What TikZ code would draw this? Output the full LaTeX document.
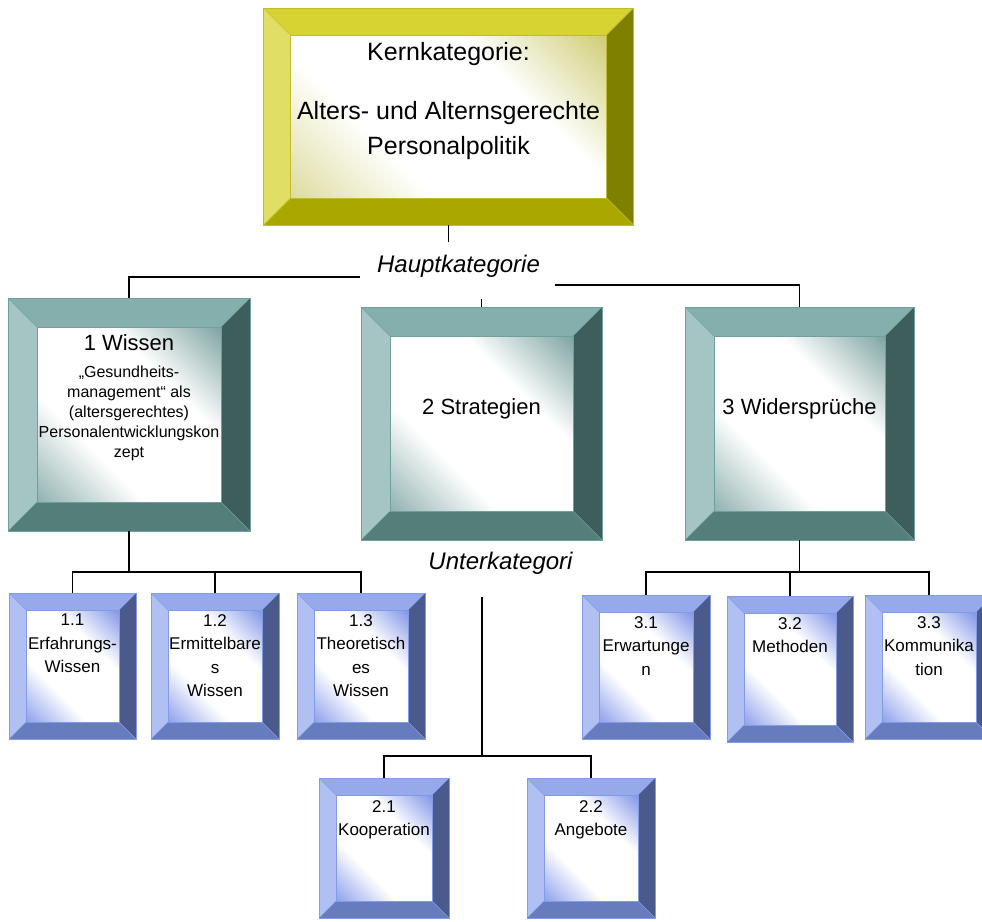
\documentclass[tikz,border=0pt]{standalone}
\usepackage{fontspec}
\setmainfont{Liberation Sans}

\definecolor{Ktop}{RGB}{214,211,50}
\definecolor{Kleft}{RGB}{224,222,100}
\definecolor{Kright}{RGB}{128,128,0}
\definecolor{Kbot}{RGB}{170,168,0}
\definecolor{Kin}{RGB}{208,206,120}
\definecolor{Kedge}{RGB}{190,188,40}
\definecolor{Ttop}{RGB}{132,175,172}
\definecolor{Tleft}{RGB}{164,197,195}
\definecolor{Tright}{RGB}{62,94,92}
\definecolor{Tbot}{RGB}{83,126,122}
\definecolor{Tin}{RGB}{128,166,164}
\definecolor{Tedge}{RGB}{112,160,155}
\definecolor{Btop}{RGB}{150,170,235}
\definecolor{Bleft}{RGB}{176,192,242}
\definecolor{Bright}{RGB}{74,90,140}
\definecolor{Bbot}{RGB}{102,124,190}
\definecolor{Bin}{RGB}{132,152,232}
\definecolor{Bedge}{RGB}{130,155,230}

\pgfdeclarehorizontalshading{Kshade}{100bp}{color(0bp)=(Kin!70!white); color(15bp)=(Kin!70!white); color(36bp)=(white); color(64bp)=(white); color(85bp)=(Kin); color(100bp)=(Kin)}
\pgfdeclarehorizontalshading{Tshade}{100bp}{color(0bp)=(Tin!85!white); color(15bp)=(Tin!85!white); color(36bp)=(white); color(64bp)=(white); color(85bp)=(Tin); color(100bp)=(Tin)}
\pgfdeclarehorizontalshading{Bshade}{100bp}{color(0bp)=(Bin!90!white); color(15bp)=(Bin!90!white); color(36bp)=(white); color(64bp)=(white); color(85bp)=(Bin); color(100bp)=(Bin)}

\begin{document}
\begin{tikzpicture}[x=1pt,y=-1pt]
\tikzset{bevel/.style 2 args={draw=#1edge, line width=0.5pt, inner sep=0pt,
  path picture={
    \path (path picture bounding box.north west) coordinate (onw)
          (path picture bounding box.north east) coordinate (one)
          (path picture bounding box.south east) coordinate (ose)
          (path picture bounding box.south west) coordinate (osw)
          ([shift={(#2pt,-#2pt)}]onw) coordinate (inw)
          ([shift={(-#2pt,-#2pt)}]one) coordinate (ine)
          ([shift={(-#2pt,#2pt)}]ose) coordinate (ise)
          ([shift={(#2pt,#2pt)}]osw) coordinate (isw);
    \fill[#1top] (onw) -- (one) -- (ine) -- (inw) -- cycle;
    \fill[#1right] (one) -- (ose) -- (ise) -- (ine) -- cycle;
    \fill[#1bot] (ose) -- (osw) -- (isw) -- (ise) -- cycle;
    \fill[#1left] (osw) -- (onw) -- (inw) -- (isw) -- cycle;
    \shade[shading=#1shade, shading angle=45, draw=#1edge, line width=0.4pt] (inw) rectangle (ise);
    \draw[#1edge, line width=0.4pt] (onw) -- (inw) (one) -- (ine) (ose) -- (ise) (osw) -- (isw);
  }}}
\tikzstyle{kernbox}=[bevel={K}{27}, minimum width=370pt, minimum height=217pt]
\tikzstyle{mainbox}=[bevel={T}{29}, minimum height=233pt]
\tikzstyle{subbox}=[bevel={B}{17}]
\tikzstyle{kerntext}=[font=\fontsize{25}{35}\selectfont, align=center, inner sep=0pt]
\tikzstyle{maintext}=[font=\fontsize{22}{26}\selectfont, inner sep=0pt]
\tikzstyle{smalltext}=[font=\fontsize{16}{20}\selectfont, align=center, anchor=north, inner sep=0pt]
\tikzstyle{subtext}=[font=\fontsize{17}{23.5}\selectfont, align=center, anchor=north, inner sep=0pt]
\tikzstyle{cattext}=[font=\fontsize{24}{28}\selectfont\itshape, inner sep=0pt]
\tikzstyle{conn}=[line width=1.6pt]
\clip (0,0) rectangle (982,921);

% Kernkategorie
\node[kernbox] (k) at (448.5,116.5) {};
\node[kerntext] (ktext) at (448.5,101) {Kernkategorie:\\[24pt]Alters- und Alternsgerechte\\Personalpolitik};
\node[cattext] (hk) at (458.5,266) {Hauptkategorie};

% Hauptkategorien
\node[mainbox, minimum width=242pt] (w1) at (129,414.5) {};
\node[maintext] (w1text) at (129,343) {1 Wissen};
\node[smalltext] (w1sub) at (129,366) {„Gesundheits-\\management“ als\\(altersgerechtes)\\Personalentwicklungskon\\zept};
\node[mainbox, minimum width=241pt] (w2) at (481.5,423.5) {};
\node[maintext] (w2text) at (481.5,409) {2 Strategien};
\node[mainbox, minimum width=229pt] (w3) at (799.5,423.5) {};
\node[maintext] (w3text) at (799.5,409) {3 Widersprüche};
\node[cattext] (uk) at (500.5,563) {Unterkategori};

% Unterkategorien
\node[subbox, minimum width=127pt, minimum height=146pt] (s11) at (72.5,666) {};
\node[subbox, minimum width=128pt, minimum height=146pt] (s12) at (215,666) {};
\node[subbox, minimum width=128pt, minimum height=146pt] (s13) at (361,666) {};
\node[subbox, minimum width=130pt, minimum height=140pt] (s21) at (384,848) {};
\node[subbox, minimum width=128pt, minimum height=140pt] (s22) at (591,848) {};
\node[subbox, minimum width=128pt, minimum height=144pt] (s31) at (646,667) {};
\node[subbox, minimum width=126pt, minimum height=146pt] (s32) at (790,669) {};
\node[subbox, minimum width=128pt, minimum height=144pt] (s33) at (929,667) {};
\node[subtext] (t11) at (72.5,614) {1.1\\Erfahrungs-\\Wissen};
\node[subtext] (t12) at (215,614) {1.2\\Ermittelbare\\s\\Wissen};
\node[subtext] (t13) at (361,614) {1.3\\Theoretisch\\es\\Wissen};
\node[subtext] (t21) at (384,800) {2.1\\Kooperation};
\node[subtext] (t22) at (591,800) {2.2\\Angebote};
\node[subtext] (t31) at (646,616) {3.1\\Erwartunge\\n};
\node[subtext] (t32) at (790,617) {3.2\\Methoden};
\node[subtext] (t33) at (929,616) {3.3\\Kommunika\\tion};

% Verbindungen
\coordinate (kend) at (448.5,242);
\coordinate (hl) at (360,277);
\coordinate (hr) at (555,285);
\coordinate (hm) at (481.5,299);
\coordinate (j1) at (129,572);
\coordinate (u1) at (482,597);
\coordinate (j2) at (482,756);
\coordinate (j3) at (799.5,572);
\draw[conn] (k.south) -- (kend);
\draw[conn] (w1.north) |- (hl);
\draw[conn] (hr) -| (w3.north);
\draw[conn] (hm) -- (w2.north);
\draw[conn] (w1.south) -- (j1);
\draw[conn] (s11.north) |- (j1) -| (s13.north);
\draw[conn] (j1 -| s12.north) -- (s12.north);
\draw[conn] (u1) -- (j2);
\draw[conn] (s21.north) |- (j2) -| (s22.north);
\draw[conn] (w3.south) -- (j3);
\draw[conn] (s31.north) |- (j3) -| (s33.north);
\draw[conn] (j3 -| s32.north) -- (s32.north);
\end{tikzpicture}
\end{document}
